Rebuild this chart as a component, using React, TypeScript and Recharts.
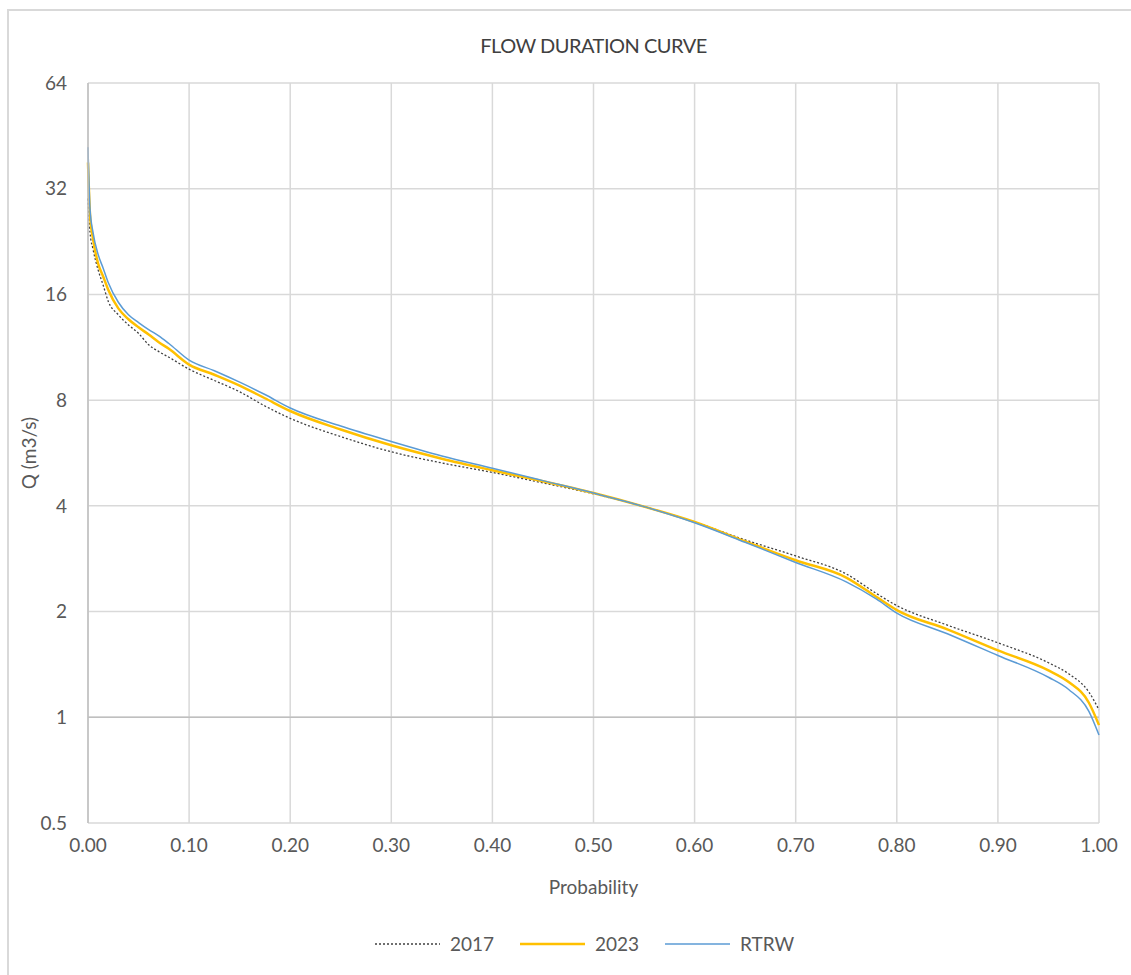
import {
  LineChart,
  Line,
  XAxis,
  YAxis,
  CartesianGrid,
  ReferenceLine,
} from "recharts";

const probability = [
  0, 0.002, 0.005, 0.01, 0.015, 0.02, 0.03, 0.04, 0.05, 0.06, 0.07, 0.08, 0.1,
  0.125, 0.15, 0.175, 0.2, 0.25, 0.3, 0.35, 0.4, 0.45, 0.5, 0.55, 0.6, 0.65,
  0.7, 0.75, 0.78, 0.8, 0.85, 0.9, 0.95, 0.97, 0.99, 1.0,
];

const q2017 = [
  30, 24, 21.5, 18.8, 17, 15.3, 14.0, 13.1, 12.4, 11.5, 11.0, 10.6, 9.8, 9.1,
  8.45, 7.7, 7.1, 6.3, 5.7, 5.3, 4.98, 4.65, 4.33, 3.98, 3.6, 3.2, 2.88, 2.56,
  2.25, 2.08, 1.83, 1.63, 1.43, 1.33, 1.18, 1.05,
];

const q2023 = [
  38, 27, 23, 19.6, 18, 16.5, 14.6, 13.6, 12.9, 12.3, 11.7, 11.2, 10.1, 9.45,
  8.8, 8.1, 7.45, 6.6, 5.95, 5.45, 5.05, 4.7, 4.35, 3.98, 3.6, 3.17, 2.8, 2.5,
  2.2, 2.02, 1.78, 1.55, 1.36, 1.26, 1.1, 0.95,
];

const qRtrw = [
  42, 28, 24, 20.8, 19, 17.3, 15.2, 14.0, 13.3, 12.7, 12.2, 11.6, 10.4, 9.7,
  9.0, 8.3, 7.6, 6.75, 6.1, 5.55, 5.12, 4.72, 4.35, 3.98, 3.58, 3.15, 2.76,
  2.43, 2.17, 1.98, 1.73, 1.5, 1.3, 1.2, 1.04, 0.89,
];

const xTicks = [0, 0.1, 0.2, 0.3, 0.4, 0.5, 0.6, 0.7, 0.8, 0.9, 1.0];
const yTicks = [0.5, 1, 2, 4, 8, 16, 32, 64];

const seriesMeta = [
  { key: "y2017", name: "2017", color: "#404040", width: 1.3, dash: "2 2" },
  { key: "y2023", name: "2023", color: "#ffc000", width: 2.5, dash: undefined },
  { key: "rtrw", name: "RTRW", color: "#5b9bd5", width: 1.5, dash: undefined },
];

const data = probability.map((p, i) => ({
  p,
  y2017: q2017[i],
  y2023: q2023[i],
  rtrw: qRtrw[i],
}));

const FONT = "Lato, 'Open Sans', sans-serif";
const TEXT = "#595959";

export default function App() {
  return (
    <div
      style={{
        position: "absolute",
        left: 0,
        top: 0,
        width: 1131,
        height: 975,
        overflow: "hidden",
        background: "#fff",
        fontFamily: FONT,
      }}
    >
      {/* chart frame, runs off the right and bottom edges */}
      <div
        style={{
          position: "absolute",
          left: 7,
          top: 9,
          width: 1200,
          height: 1050,
          border: "2px solid #d9d9d9",
          boxSizing: "border-box",
        }}
      />
      <div
        style={{
          position: "absolute",
          left: 88,
          width: 1011,
          top: 33,
          textAlign: "center",
          fontSize: 20,
          color: "#404040",
          letterSpacing: -0.5,
        }}
      >
        FLOW DURATION CURVE
      </div>
      <div style={{ position: "absolute", left: 0, top: 0 }}>
        <LineChart
          width={1131}
          height={975}
          data={data}
          margin={{ top: 83, right: 32, bottom: 122, left: 0 }}
        >
          <CartesianGrid stroke="#d9d9d9" strokeWidth={1.5} />
          <XAxis
            type="number"
            dataKey="p"
            domain={[0, 1]}
            ticks={xTicks}
            tickFormatter={(v: number) => v.toFixed(2)}
            axisLine={false}
            tickLine={false}
            tickMargin={10}
            height={30}
            tick={{ fill: TEXT, fontSize: 19, fontFamily: FONT }}
            interval={0}
          />
          <YAxis
            scale="log"
            domain={[0.5, 64]}
            ticks={yTicks}
            allowDataOverflow
            axisLine={{ stroke: "#bfbfbf", strokeWidth: 1.5 }}
            tickLine={false}
            tickMargin={15}
            width={88}
            interval={0}
            tick={{ fill: TEXT, fontSize: 19, fontFamily: FONT }}
          />
          <ReferenceLine y={1} stroke="#bfbfbf" strokeWidth={1.5} />
          {seriesMeta.map((s) => (
            <Line
              key={s.key}
              type="monotone"
              dataKey={s.key}
              name={s.name}
              stroke={s.color}
              strokeWidth={s.width}
              strokeDasharray={s.dash}
              dot={false}
              isAnimationActive={false}
            />
          ))}
        </LineChart>
      </div>
      <div
        style={{
          position: "absolute",
          left: 28,
          top: 453,
          transform: "translate(-50%, -50%) rotate(-90deg)",
          whiteSpace: "nowrap",
          fontSize: 19,
          color: TEXT,
        }}
      >
        Q (m3/s)
      </div>
      <div
        style={{
          position: "absolute",
          left: 88,
          width: 1011,
          top: 875,
          textAlign: "center",
          fontSize: 19,
          color: TEXT,
        }}
      >
        Probability
      </div>
      <div
        style={{
          position: "absolute",
          left: 0,
          width: 1131,
          top: 932,
          display: "flex",
          justifyContent: "center",
          alignItems: "center",
          gap: 26,
          paddingLeft: 38,
          boxSizing: "border-box",
          fontSize: 19,
          color: TEXT,
        }}
      >
        {seriesMeta.map((s) => (
          <div key={s.key} style={{ display: "flex", alignItems: "center" }}>
            <svg width={65} height={10} style={{ marginRight: 10 }}>
              <line
                x1={0}
                y1={5}
                x2={65}
                y2={5}
                stroke={s.color}
                strokeWidth={s.width}
                strokeDasharray={s.dash}
              />
            </svg>
            <span>{s.name}</span>
          </div>
        ))}
      </div>
    </div>
  );
}
